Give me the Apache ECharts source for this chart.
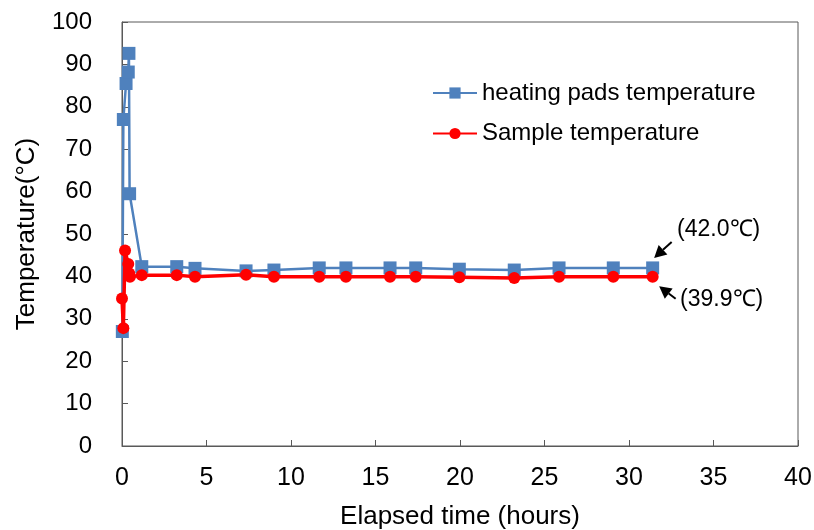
<!DOCTYPE html>
<html>
<head>
<meta charset="utf-8">
<script src="https://cdn.jsdelivr.net/npm/echarts@6/dist/echarts.min.js"></script>
<style>
  html, body { margin: 0; padding: 0; background: #fff; }
  #chart { width: 814px; height: 530px; }
</style>
</head>
<body>
<div id="chart"></div>
<script>
// Elapsed time (hours) and temperature (°C) readings
const padTimes = [0.02, 0.08, 0.24, 0.37, 0.41, 0.45, 1.17, 3.24, 4.32, 7.34, 8.99, 11.67, 13.25, 15.86, 17.38, 19.96, 23.21, 25.86, 29.07, 31.40];
const padTemps = [27.0, 77.0, 85.5, 88.2, 92.6, 59.5, 42.3, 42.3, 41.9, 41.3, 41.5, 42.0, 42.0, 42.0, 42.0, 41.7, 41.5, 42.0, 42.0, 42.0];

const sampleTimes = [0.00, 0.08, 0.18, 0.37, 0.43, 0.47, 1.17, 3.24, 4.32, 7.34, 8.99, 11.67, 13.25, 15.86, 17.38, 19.96, 23.21, 25.86, 29.07, 31.40];
const sampleTemps = [34.8, 27.8, 46.1, 42.9, 40.7, 39.9, 40.3, 40.3, 39.9, 40.4, 39.9, 39.9, 39.9, 39.9, 39.9, 39.8, 39.6, 39.9, 39.9, 39.9];

const seriesNames = ['heating pads temperature', 'Sample temperature'];
const xTitle = 'Elapsed time (hours)';
const yTitle = 'Temperature(°C)';

const FONT = '"Liberation Sans", Arial, sans-serif';
const BLUE = '#4F81BD';
const RED = '#FF0000';
const AXIS = '#595959';

function pairs(xs, ys, lastLabel) {
  return xs.map((x, i) => {
    const item = { value: [x, ys[i]] };
    if (i === xs.length - 1 && lastLabel) item.label = lastLabel(ys[i]);
    return item;
  });
}

function endLabel(offset) {
  return v => ({
    show: true,
    position: 'inside',
    offset: offset,
    formatter: '(' + v.toFixed(1) + '℃)',
    color: '#000',
    fontFamily: FONT,
    fontSize: 23
  });
}

const chart = echarts.init(document.getElementById('chart'), null, { renderer: 'canvas' });

chart.setOption({
  animation: false,
  backgroundColor: '#fff',
  textStyle: { fontFamily: FONT },
  grid: {
    left: 122, right: 16, top: 22, bottom: 84,
    containLabel: false,
    outerBoundsMode: 'none',
    show: true, borderColor: AXIS, borderWidth: 1
  },
  legend: {
    left: 432, top: 81, padding: 0,
    orient: 'vertical',
    itemWidth: 44, itemHeight: 14, itemGap: 16.5,
    textStyle: { fontFamily: FONT, fontSize: 24, color: '#000' },
    data: seriesNames
  },
  xAxis: {
    type: 'value', min: 0, max: 40, interval: 5,
    name: xTitle, nameLocation: 'middle', nameGap: 58,
    nameTextStyle: { fontFamily: FONT, fontSize: 26, color: '#000' },
    axisLine: { show: true, lineStyle: { color: AXIS, width: 1 } },
    axisTick: { show: true, inside: true, length: 6, lineStyle: { color: AXIS } },
    axisLabel: { fontFamily: FONT, fontSize: 25, color: '#000', margin: 20 },
    splitLine: { show: false }
  },
  yAxis: {
    type: 'value', min: 0, max: 100, interval: 10,
    name: yTitle, nameLocation: 'middle', nameGap: 82, nameRotate: 90,
    nameTextStyle: { fontFamily: FONT, fontSize: 26, color: '#000' },
    axisLine: { show: true, lineStyle: { color: AXIS, width: 1 } },
    axisTick: { show: true, inside: true, length: 6, lineStyle: { color: AXIS } },
    axisLabel: { fontFamily: FONT, fontSize: 24, color: '#000', margin: 30 },
    splitLine: { show: false }
  },
  series: [
    {
      name: seriesNames[0],
      type: 'line',
      data: pairs(padTimes, padTemps, endLabel([66, -38])),
      symbol: 'rect', symbolSize: 13,
      lineStyle: { color: BLUE, width: 2.5 },
      itemStyle: { color: BLUE },
      emphasis: { disabled: true },
      z: 2
    },
    {
      name: seriesNames[1],
      type: 'line',
      data: pairs(sampleTimes, sampleTemps, endLabel([69, 23])),
      symbol: 'circle', symbolSize: 12,
      lineStyle: { color: RED, width: 3.5 },
      itemStyle: { color: RED },
      emphasis: { disabled: true },
      z: 3
    }
  ]
});

// Arrows pointing at the final reading of each series
function arrow(from, to) {
  const dx = to[0] - from[0], dy = to[1] - from[1];
  const len = Math.hypot(dx, dy);
  const ux = dx / len, uy = dy / len;
  const headLen = 12, headHalf = 6.5;
  const bx = to[0] - ux * headLen, by = to[1] - uy * headLen;
  return [
    { type: 'line', shape: { x1: from[0], y1: from[1], x2: bx, y2: by },
      style: { stroke: '#000', lineWidth: 2 }, silent: true },
    { type: 'polygon',
      shape: { points: [[to[0], to[1]], [bx - uy * headHalf, by + ux * headHalf], [bx + uy * headHalf, by - ux * headHalf]] },
      style: { fill: '#000' }, silent: true }
  ];
}

const padEnd = chart.convertToPixel({ gridIndex: 0 }, [padTimes[padTimes.length - 1], padTemps[padTemps.length - 1]]);
const sampleEnd = chart.convertToPixel({ gridIndex: 0 }, [sampleTimes[sampleTimes.length - 1], sampleTemps[sampleTemps.length - 1]]);

chart.setOption({
  graphic: [
    ...arrow([padEnd[0] + 19, padEnd[1] - 26], [padEnd[0] + 1.5, padEnd[1] - 10]),
    ...arrow([sampleEnd[0] + 23, sampleEnd[1] + 22], [sampleEnd[0] + 6.5, sampleEnd[1] + 9.5])
  ]
});
</script>
</body>
</html>
